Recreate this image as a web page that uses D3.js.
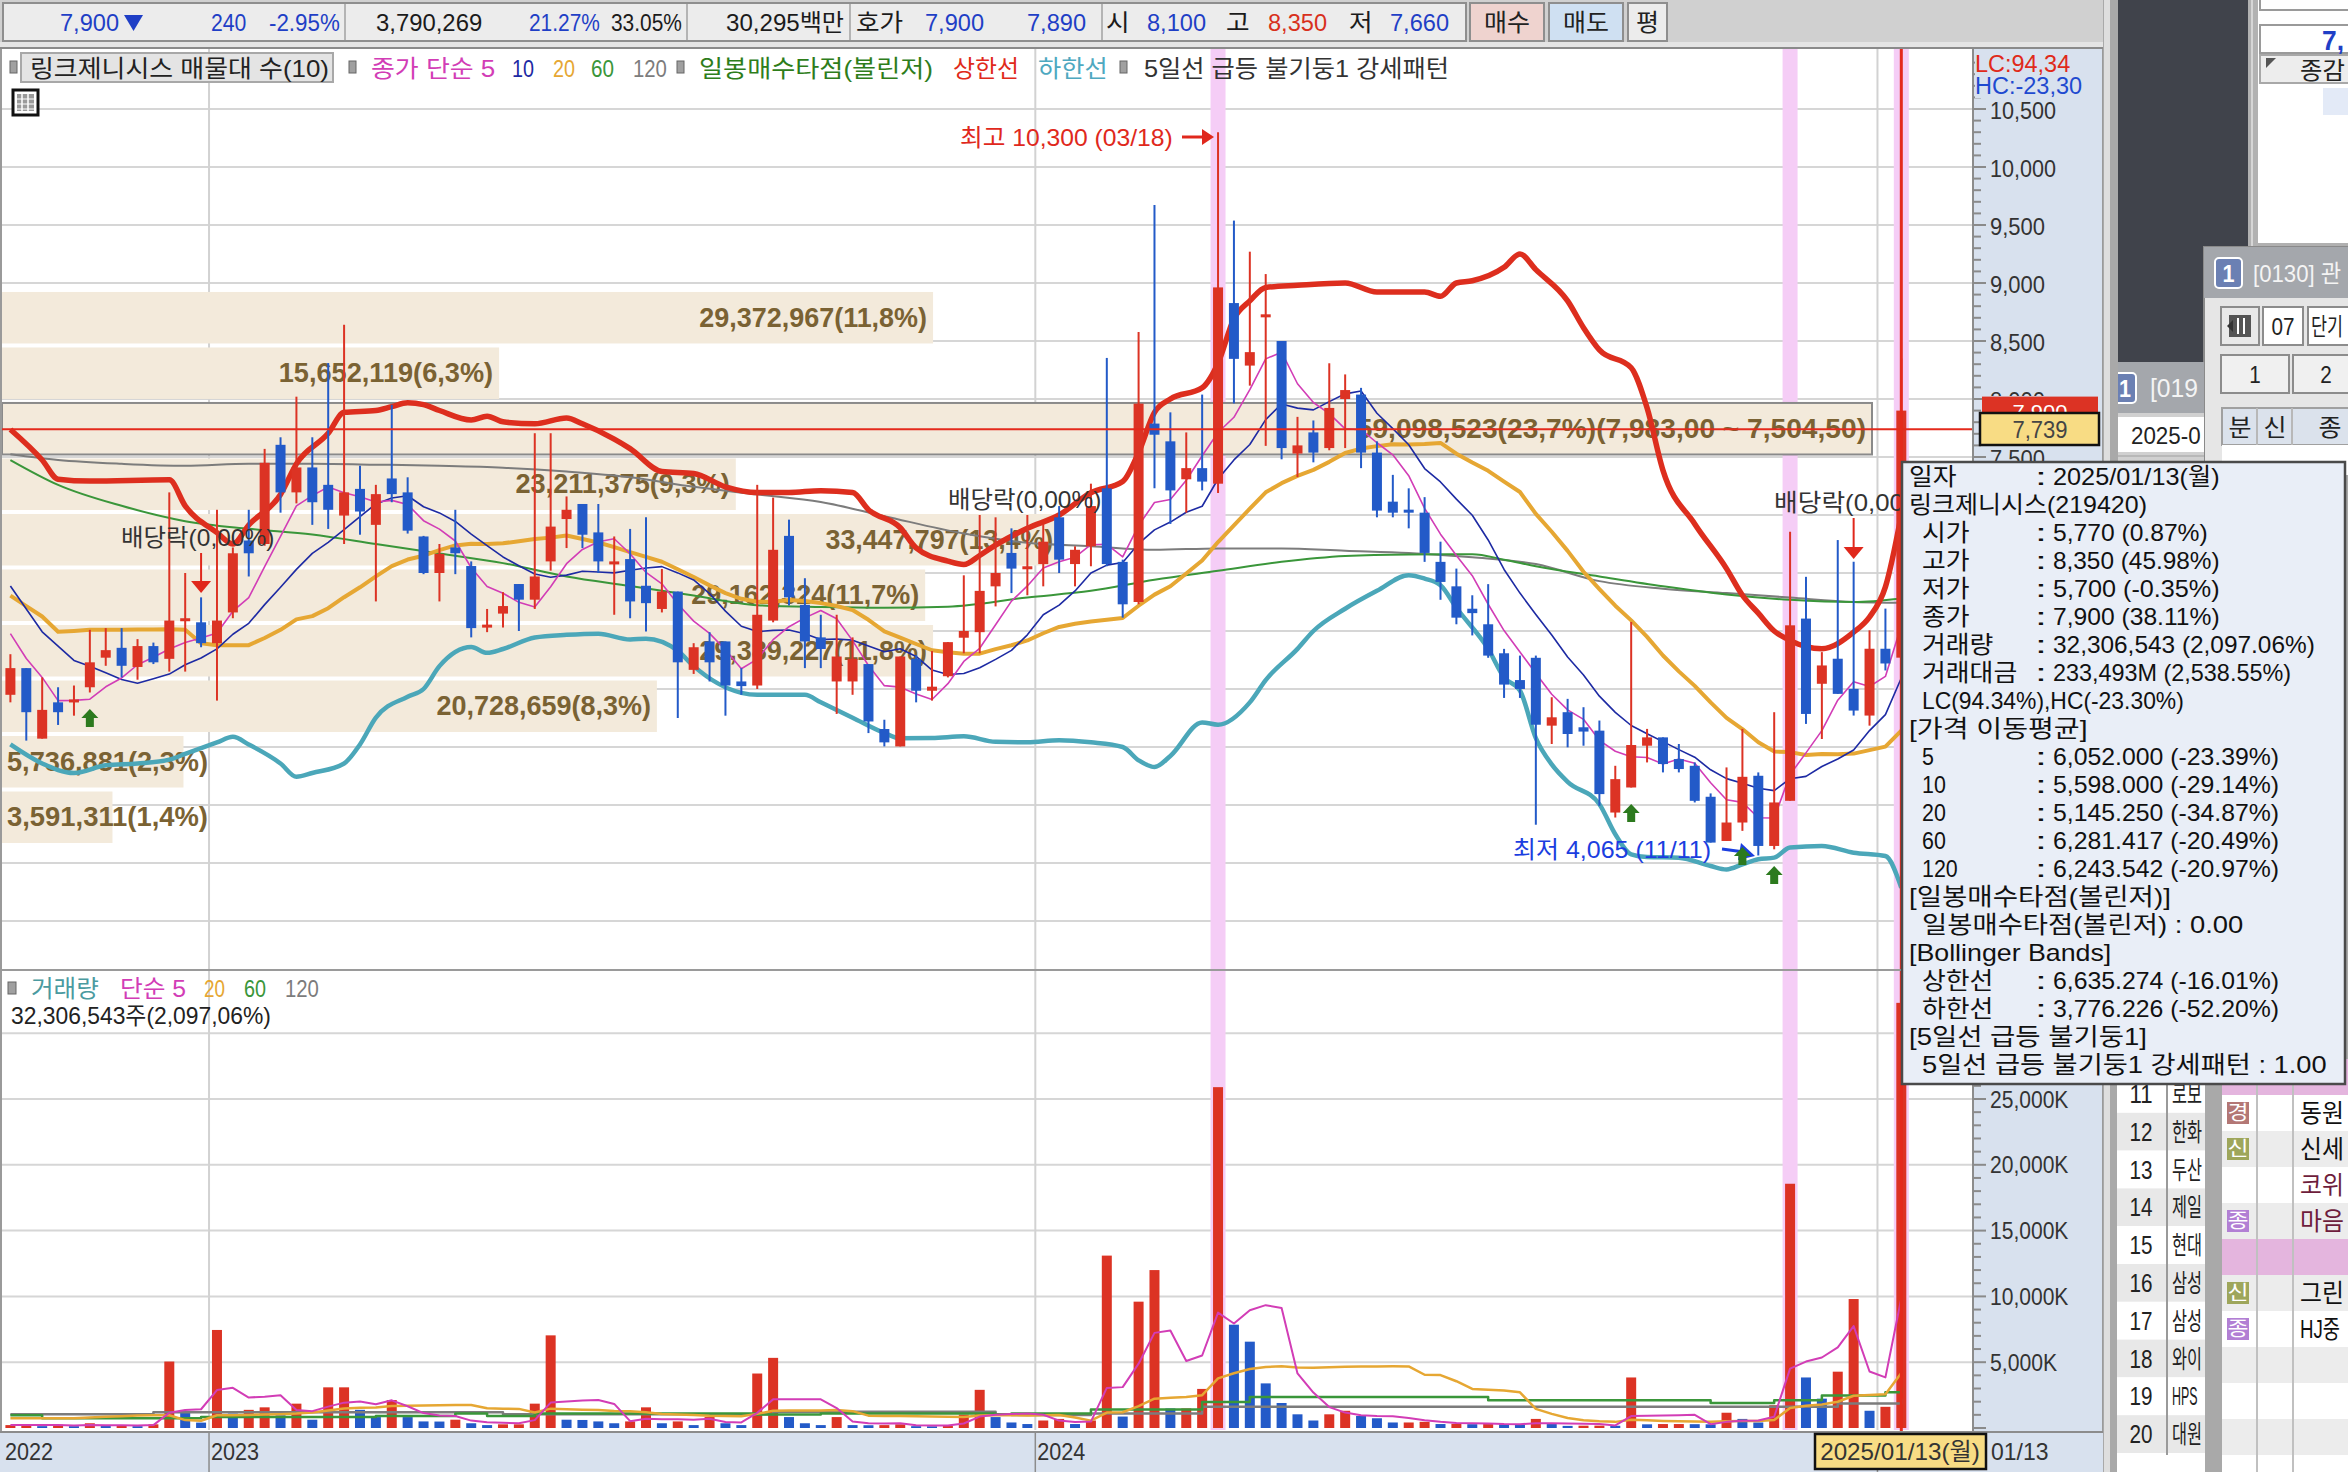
<!DOCTYPE html>
<html><head><meta charset="utf-8">
<script src="https://cdn.jsdelivr.net/npm/d3@7/dist/d3.min.js"></script>
<style>html,body{margin:0;padding:0;background:#fff;overflow:hidden}svg{display:block}</style>
</head><body>
<svg id="chart" width="2348" height="1472" xmlns="http://www.w3.org/2000/svg"></svg>
<script>
// ================= DATA (weekly candles, 2022-10-03 .. 2025-01-13) =================
const firstWeek = "2022-10-03";
const open = [5450,5680,5072,5385,5390,5515,5770,5855,5690,5870,
5760,6100,6075,5895,6160,6780,6750,7605,7195,7410,
7260,6995,7225,6915,7315,7195,6815,6500,6720,6560,
6040,6150,6405,6270,6600,6965,7095,6850,6580,6620,
6390,6190,6340,5665,5910,5910,5565,5530,6090,6820,
6225,5945,5565,5565,5715,5155,5005,5760,5485,5610,
5942,5990,6385,6673,6540,6577,6980,6577,6730,7230,
6596,6250,7788,7635,7308,7404,7270,8827,8288,8704,
8500,7530,7712,7577,8000,8038,7538,7115,7046,7020,
6596,6385,6192,6058,5808,5577,5769,5184,5300,5170,
5141,4435,4651,5011,5083,4896,4838,4571,4190,4349,
4752,4147,4536,6107,5545,5761,5501,5271,5847,5770];
const high = [5800,5680,5600,5515,5530,6010,6025,6025,5930,5900,
7195,6500,6290,7045,6720,7045,7570,7670,8020,7670,
8310,8640,7425,7260,7950,7325,6820,6750,7045,6600,
6190,6335,6405,7705,7705,7160,7095,7095,6815,6880,
6980,6535,6340,5895,5990,5910,5680,7260,7150,6960,
6455,6140,6140,5945,5715,5235,5780,5790,5827,5904,
6480,7000,6980,6885,7000,6923,7077,6730,7270,8354,
6615,8577,9673,7885,7712,8038,10300,9538,9270,9077,
8500,7846,7815,8308,8212,8096,7635,7346,7230,7154,
6770,6538,6308,6404,5846,5788,5788,5429,5415,5343,
5228,4838,6078,5156,5083,5026,4867,4600,4824,5156,
4781,5300,6856,6467,5818,6784,6597,6006,6193,8350];
const low = [5385,5055,5072,5190,5270,5470,5700,5600,5580,5715,
5650,5650,5860,5400,6110,6470,6735,7020,7100,6915,
6880,6750,6830,6255,7110,6840,6490,6255,6490,5945,
5990,6030,6000,6190,6520,6715,6715,6500,6140,6110,
5995,6160,5250,5630,5565,5270,5450,5500,6075,6220,
5680,5680,5285,5450,5120,5005,5005,5385,5400,5600,
5808,5808,6212,6327,6308,6385,6500,6385,6558,6558,
6115,6230,7230,6923,7020,7212,7190,7962,8115,7596,
7480,7327,7454,7558,7577,7404,6980,6980,6885,6596,
6269,6058,5962,5769,5423,5423,4330,5026,4997,5011,
4493,4392,4651,4867,4781,4781,4522,4176,4190,4277,
4065,4118,4536,5199,5069,5458,5271,5184,5660,5700];
const close = [5680,5300,5320,5300,5410,5730,5835,5700,5870,5730,
6090,6110,5895,6090,6670,6670,7450,7195,7410,7110,
7045,7195,7030,7180,7180,6865,6500,6665,6670,6025,
6055,6215,6270,6470,6900,7045,6830,6600,6600,6255,
6240,6340,5730,5860,5730,5530,5525,6140,6700,6290,
5910,5845,5780,5760,5220,5040,5780,5485,5520,5904,
6000,6346,6500,6538,6558,6770,6615,6700,7077,6577,
6230,7960,7692,7212,7404,7288,8962,8346,8404,8730,
7577,7600,7538,7923,8077,7538,7038,7020,7020,6673,
6423,6115,6154,5788,5538,5500,5192,5256,5112,5133,
4594,4723,5017,5083,4853,4810,4536,4176,4349,4743,
4147,4522,6049,5285,5703,5458,5314,5847,5720,7900];
const volumeK = [220,230,140,250,140,360,150,170,140,280,
5050,1240,410,7450,1100,1380,1570,970,1850,630,
3090,3090,1380,830,2125,830,500,490,630,360,
220,280,280,1850,7040,630,610,500,360,500,
1570,360,500,220,830,360,220,4140,5330,830,
360,220,830,220,210,220,280,140,130,150,
1020,2900,830,420,300,570,690,300,570,13100,
870,9600,12000,1485,1485,2970,25900,7850,6560,3390,
1900,1040,570,1040,1310,915,740,420,420,470,
300,310,290,300,280,270,690,300,160,175,
180,170,3840,280,300,300,290,280,1160,690,
420,1730,18560,3840,2230,4280,9800,1310,1610,32306];

const ma5Head  = [5977,5763,5600,5400];
const ma10Head = [6388,6190,5993,5870,5746,5697,5640,5582,5549];
const ma20Head = [6305,6215,6125,5993,6000,6010,6010,6010,6012,6014,6015,6010,5895,5878,5878,5878,5940,6010,6100];
const ma60Pts  = [[0,7474],[3,7260],[7,7079],[11,6947],[15,6881],[19,6832],[23,6750],[27,6668],[31,6585],[35,6470],[39,6388],[43,6306],[47,6223],[51,6207],[55,6200],[59,6210],[64,6289],[68,6346],[72,6442],[76,6519],[80,6596],[84,6646],[88,6660],[92,6662],[94,6615],[96,6558],[100,6470],[104,6385],[108,6315],[112,6269],[116,6250],[119,6281]];
const ma120Pts = [[0,7523],[3,7474],[7,7441],[11,7424],[15,7441],[19,7441],[23,7434],[27,7424],[31,7408],[35,7375],[39,7326],[43,7243],[47,7177],[51,7112],[55,6990],[60,6840],[64,6760],[68,6731],[72,6700],[76,6712],[80,6712],[84,6692],[88,6673],[92,6635],[96,6577],[100,6430],[104,6365],[108,6327],[112,6288],[116,6250],[119,6243]];
const bbUpperPts = [[0,7737],[2,7474],[3,7309],[5,7293],[10,7303],[11,7079],[13,6848],[14,6750],[15,6914],[17,7177],[18,7441],[20,7704],[21,7885],[23,7901],[24,7934],[25,7967],[26,7951],[27,7901],[29,7819],[30,7852],[31,7803],[33,7786],[35,7836],[36,7786],[38,7654],[39,7572],[41,7375],[43,7358],[45,7243],[47,7194],[49,7194],[51,7210],[53,7194],[54,7046],[56,6890],[57,6717],[59,6602],[60,6573],[61,6651],[62,6740],[64,6885],[66,7000],[68,7192],[70,7288],[71,7538],[72,7885],[73,8000],[75,8096],[76,8308],[77,8692],[78,8846],[79,8962],[81,8981],[84,9000],[86,8923],[89,8923],[90,8885],[91,9000],[92,9019],[94,9135],[95,9250],[96,9115],[98,8846],[99,8615],[100,8423],[102,8269],[103,7923],[104,7385],[106,6923],[108,6538],[109,6308],[110,6154],[111,6000],[112,5919],[113,5865],[114,5847],[116,5990],[117,6121],[118,6380],[119,7000]];
const bbLowerPts = [[0,5022],[2,4858],[4,4776],[6,4842],[8,4858],[10,4891],[11,4940],[13,5039],[14,5088],[15,5022],[17,4858],[18,4743],[19,4776],[21,4858],[22,5022],[23,5253],[25,5434],[26,5500],[27,5697],[29,5862],[30,5812],[31,5845],[33,5944],[35,5967],[37,5977],[39,5927],[40,5934],[42,5829],[43,5697],[46,5467],[47,5450],[50,5450],[51,5385],[53,5253],[55,5121],[56,5075],[58,5077],[60,5092],[62,5045],[64,5040],[66,5058],[68,5040],[70,5000],[71,4885],[72,4827],[73,4923],[75,5212],[76,5192],[78,5385],[79,5577],[81,5846],[82,6000],[84,6192],[86,6346],[88,6481],[89,6452],[90,6395],[91,6200],[93,5846],[94,5600],[95,5487],[96,5077],[97,4850],[98,4700],[100,4507],[101,4248],[102,4075],[103,4052],[105,4046],[107,3974],[108,3945],[109,3988],[110,4032],[111,4046],[112,4133],[114,4147],[116,4089],[118,4060],[119,3787]];
const volMa5Head  = [220,220,220,220];
const volMa20Head = [745,745,745,745,745,800,850,900,950,966,966,600,550,966,966,990,1020,1050,1100];
const volMa60Pts  = [[0,966],[2,745],[12,830],[23,910],[28,1100],[30,910],[33,1100],[47,1020],[51,1100],[57,1100],[62,1020],[63,1110],[68,1410],[75,1980],[78,2350],[93,2100],[107,1900],[111,2100],[114,2475],[118,2720],[119,3090]];
const volMa120Pts = [[0,1050],[9,1190],[28,1190],[31,1050],[47,1050],[48,1240],[58,1240],[62,1050],[63,990],[68,1110],[75,1610],[110,1610],[115,1860],[119,2230]];

// volume profile (매물대)
const profileVol = [29372967,15652119,59098523,23211375,33447797,29162324,29389227,20728659,5736881,3591311];
const profilePct = [11.8,6.3,23.7,9.3,13.4,11.7,11.8,8.3,2.3,1.4];
const profileTop = 8940, profileStep = 478.5, profileSelected = 2;

// ticks / labels / markers
const priceTicks = [10500,10000,9500,9000,8500,8000,7500,7000,6500,6000,5500,5000,4500,4000,3500];
const volTicks = [5000,10000,15000,20000,25000,30000];
const yearLabels = ["2022","2023","2024"];
const yearBoundaries = [12.5,64.5,117.5];
const signalIdx = [76,112,119];
const buyIdx = [5,102,109,111];
const exDivIdx = [12,116];
const exDivLabels = ["배당락(0,00%)","배당락(0,00%)","배당락(0,00"];
const hiIdx = 76, loIdx = 110, cursorIdx = 119, cursorPrice = 7739, lastPrice = 7900;

const topBar = [["7,900","b"],["240","b"],["-2.95%","b"],["3,790,269","k"],["21.27%","b"],["33.05%","k"],["30,295백만","k"],["호가","k"],["7,900","b"],["7,890","b"],["시","k"],["8,100","b"],["고","k"],["8,350","r"],["저","k"],["7,660","b"]];
const tipRows = [
 ["일자","2025/01/13(월)",0],["링크제니시스(219420)",null,0],
 ["시가","5,770 (0.87%)",1],["고가","8,350 (45.98%)",1],["저가","5,700 (-0.35%)",1],["종가","7,900 (38.11%)",1],
 ["거래량","32,306,543 (2,097.06%)",1],["거래대금","233,493M (2,538.55%)",1],["LC(94.34%),HC(-23.30%)",null,1],
 ["[가격 이동평균]",null,0],["5","6,052.000 (-23.39%)",1],["10","5,598.000 (-29.14%)",1],["20","5,145.250 (-34.87%)",1],
 ["60","6,281.417 (-20.49%)",1],["120","6,243.542 (-20.97%)",1],["[일봉매수타점(볼린저)]",null,0],
 ["일봉매수타점(볼린저) : 0.00",null,1],["[Bollinger Bands]",null,0],["상한선","6,635.274 (-16.01%)",1],
 ["하한선","3,776.226 (-52.20%)",1],["[5일선 급등 불기둥1]",null,0],["5일선 급등 불기둥1 강세패턴 : 1.00",null,1]];
const listNums = ["11","12","13","14","15","16","17","18","19","20"];
const listNames = ["로보","한화","두산","제일","현대","삼성","삼성","와이","HPS","대원"];
const rightBadges = [["",""],["경","동원"],["신","신세"],["","코위"],["종","마음"],["",""],["신","그린"],["종","HJ중"],["",""],["",""],["",""]];

// ================= DRAWING =================
const svg = d3.select("#chart");
const FF = "'Liberation Sans Narrow','Liberation Sans','Noto Sans CJK KR','DejaVu Sans',sans-serif";
const UP="#dc3324", DN="#235ac8";
const C = {mag:"#d23db6", navy:"#1d2aa3", org:"#e6a733", grn:"#3a963a", gry:"#7c7c7c", bbU:"#dd2e1e", bbL:"#4ba7b9", brown:"#7a6233"};
function cells(s){let n=0;for(const ch of s){n+=/[\u1100-\u11ff\u3130-\u318f\uac00-\ud7af\u3000-\u9fff\uff00-\uffef]/.test(ch)?2:1;}return n;}
function T(g,x,y,s,o={}){
  const t=g.append("text").attr("x",x).attr("y",y).text(s)
   .attr("font-family",o.ff||FF).attr("font-size",o.fs||24).attr("fill",o.c||"#222")
   .attr("dominant-baseline","central");
  if(o.a) t.attr("text-anchor",o.a);
  if(o.w) t.attr("font-weight",o.w);
  const cw=o.cw===undefined?11.6:o.cw;
  if(cw>0) t.attr("textLength",cells(s)*cw).attr("lengthAdjust","spacingAndGlyphs");
  return t;
}
const R=(g,x,y,w,h,f,s,sw)=>{const r=g.append("rect").attr("x",x).attr("y",y).attr("width",w).attr("height",h).attr("fill",f||"none");if(s)r.attr("stroke",s).attr("stroke-width",sw||1);return r;};
const L=(g,x1,y1,x2,y2,c,w)=>g.append("line").attr("x1",x1).attr("y1",y1).attr("x2",x2).attr("y2",y2).attr("stroke",c).attr("stroke-width",w||1);

const PL=2, PR=1973, PT=49, PB=970, VB=1430;
const TIP={x:1902,y:462,w:443,h:622};
const N = close.length;
const x = d3.scaleLinear().domain([0,N-1]).range([10.4, 10.4+15.89*(N-1)]);
const y = d3.scaleLinear().domain([3500,10500]).range([921,109]);
const yv = d3.scaleLinear().domain([0,25000]).range([1428,1099]);
const underTip = yy => yy>TIP.y-10 && yy<TIP.y+TIP.h+10;

// derived moving averages (simple, on closes / volumes)
const sma=(arr,n,head)=>arr.map((v,i)=> i<n-1 ? head[i] : d3.mean(arr.slice(i-n+1,i+1)));
const ma5 = sma(close,5,ma5Head), ma10 = sma(close,10,ma10Head), ma20 = sma(close,20,ma20Head);
const vma5 = sma(volumeK,5,volMa5Head), vma20 = sma(volumeK,20,volMa20Head);

svg.append("rect").attr("width",2348).attr("height",1472).attr("fill","#fff");
const defs = svg.append("defs");
defs.append("clipPath").attr("id","cp").append("rect").attr("x",PL).attr("y",PT).attr("width",PR-PL).attr("height",PB-PT);
defs.append("clipPath").attr("id","cv").append("rect").attr("x",PL).attr("y",PB).attr("width",PR-PL).attr("height",VB-PB);

// ---- top bar ----
const tb = svg.append("g");
R(tb,0,0,2110,49,"#d0d0d0");
R(tb,0,42,2110,6,"#e4e4e4");
L(tb,0,48,2103,48,"#8a8a8a",2);
R(tb,3,3,1463,38,"#ececec","#8e8e8e",2);
[345,687,850,1102].forEach(sx=>L(tb,sx,4,sx,40,"#b4b4b4",2));
const tbX=[60,211,269,376,529,611,726,856,925,1027,1106,1147,1226,1268,1349,1390];
const tcol={b:"#1f3fc6",k:"#1b1b1b",r:"#d8301c"};
topBar.forEach((d,i)=>T(tb,tbX[i],22,d[0],{c:tcol[d[1]],cw:11.8,fs:24}));
tb.append("polygon").attr("points","124,15 143,15 133.5,31").attr("fill","#1f3fc6");
R(tb,1470,3,74,38,"#efd3cf","#8e8e8e",2); T(tb,1507,22,"매수",{a:"middle",cw:11.5});
R(tb,1549,3,74,38,"#cfe0f2","#8e8e8e",2); T(tb,1586,22,"매도",{a:"middle",cw:11.5});
R(tb,1628,3,39,38,"#ececec","#8e8e8e",2); T(tb,1647.5,22,"평",{a:"middle",cw:11.5});

// ---- grid ----
const gg = svg.append("g");
priceTicks.forEach(p=>L(gg,PL,y(p),PR,y(p),"#d6d6d6",2));
volTicks.forEach(v=>L(gg,PL,yv(v),PR,yv(v),"#d6d6d6",2));
yearBoundaries.forEach(b=>L(gg,x(b),PT,x(b),VB,"#d2d2d2",2));

// ---- signal bands (pink) ----
svg.append("g").selectAll("rect").data(signalIdx).join("rect")
  .attr("x",d=>x(d)-7.5).attr("y",PT).attr("width",15).attr("height",VB-PT).attr("fill","#f5cdf6");

// ---- volume profile ----
const pg = svg.append("g").attr("clip-path","url(#cp)");
const bx = d3.scaleLinear().domain([0,23.7]).range([PL,1872]);
const fmt = d3.format(",");
profilePct.forEach((pct,k)=>{
  const top = profileTop-k*profileStep, bot = top-profileStep;
  const y0=y(top)+2, y1=y(bot)-2;
  const r=R(pg,PL,y0,bx(pct)-PL,y1-y0,"#f3eadb");
  if(k===profileSelected) r.attr("stroke","#8a8a8a").attr("stroke-width",2);
  let lab = fmt(profileVol[k])+"("+String(pct).replace(".",",")+"%)";
  if(k===profileSelected){const f2=v=>d3.format(",.2f")(v).replace(/\.(\d\d)$/,",$1"); lab += "("+f2(top)+" ~ "+f2(bot)+")";}
  const w = lab.length*13.4;
  T(pg, Math.max(7+w, bx(pct)-6), (y0+y1)/2, lab, {a:"end", fs:27, c:C.brown, w:"bold", cw:0})
    .attr("textLength",w).attr("lengthAdjust","spacingAndGlyphs");
});

// ---- price lines ----
const lg = svg.append("g").attr("clip-path","url(#cp)");
const lineArr = d3.line().x((d,i)=>x(i)).y(d=>y(d));
const linePts = d3.line().x(d=>x(d[0])).y(d=>y(d[1])).curve(d3.curveMonotoneX);
const path=(g,d,c,w)=>g.append("path").attr("d",d).attr("fill","none").attr("stroke",c).attr("stroke-width",w).attr("stroke-linejoin","round");
path(lg,linePts(bbLowerPts),C.bbL,4.5);
path(lg,linePts(ma120Pts),C.gry,2);
path(lg,linePts(ma60Pts),C.grn,2);
path(lg,lineArr(ma20),C.org,4);
path(lg,lineArr(ma10),C.navy,1.6);
path(lg,lineArr(ma5),C.mag,1.6);
path(lg,linePts(bbUpperPts),C.bbU,5.5);

// ---- candles ----
const cg = svg.append("g").attr("clip-path","url(#cp)");
const idx = d3.range(N);
const ccol = i=> close[i]>=open[i]?UP:DN;
cg.selectAll("line").data(idx).join("line")
  .attr("x1",i=>x(i)).attr("x2",i=>x(i)).attr("y1",i=>y(high[i])).attr("y2",i=>y(low[i]))
  .attr("stroke",ccol).attr("stroke-width",2);
cg.selectAll("rect").data(idx).join("rect")
  .attr("x",i=>x(i)-5).attr("width",10)
  .attr("y",i=>y(Math.max(open[i],close[i])))
  .attr("height",i=>Math.max(3,y(Math.min(open[i],close[i]))-y(Math.max(open[i],close[i]))))
  .attr("fill",ccol);

// ---- volume ----
const vg = svg.append("g").attr("clip-path","url(#cv)");
const vcol = i=> i===0 ? ccol(0) : (volumeK[i]>=volumeK[i-1]?UP:DN);
vg.selectAll("rect").data(idx).join("rect")
  .attr("x",i=>x(i)-5).attr("width",10).attr("y",i=>yv(volumeK[i])).attr("height",i=>yv(0)-yv(volumeK[i]))
  .attr("fill",vcol);
const vArr = d3.line().x((d,i)=>x(i)).y(d=>yv(d));
const vPts = d3.line().x(d=>x(d[0])).y(d=>yv(d[1])).curve(d3.curveStepAfter);
path(vg,vPts(volMa120Pts),C.gry,2.5);
path(vg,vPts(volMa60Pts),C.grn,2.5);
path(vg,vArr(vma20),C.org,2.5);
path(vg,vArr(vma5),C.mag,2);

// ---- annotations ----
const ag = svg.append("g");
T(ag,960,137,"최고 "+fmt(high[hiIdx])+" (03/18)",{c:"#e0281c",cw:11.2});
L(ag,1182,137,1204,137,"#e0281c",3);
ag.append("polygon").attr("points","1202,129 1214,137 1202,145").attr("fill","#e0281c");
T(ag,1513,849,"최저 "+fmt(low[loIdx])+" (11/11)",{c:"#1b3ee0",cw:11});
L(ag,1722,849,1744,852,"#1b3ee0",3);
ag.append("polygon").attr("points","1741,843 1755,856 1738,860").attr("fill","#1b3ee0");
const exDivLabelXY = [[121,537],[948,499],[1774,502]];
exDivLabels.forEach((s,k)=>T(ag,exDivLabelXY[k][0],exDivLabelXY[k][1],s,{c:"#333",cw:11.8}));
const exDivY=[[553,581],[518,547]];
exDivIdx.forEach((d,k)=>{const cx=x(d);L(ag,cx,exDivY[k][0],cx,exDivY[k][1],"#e0281c",2);
  ag.append("polygon").attr("points",`${cx-10},${exDivY[k][1]} ${cx+10},${exDivY[k][1]} ${cx},${exDivY[k][1]+12}`).attr("fill","#e0281c");});
const buyTop=[709,804,847,866];
buyIdx.forEach((d,k)=>{const cx=x(d),t=buyTop[k];
  ag.append("polygon").attr("points",`${cx},${t} ${cx+8.5},${t+9} ${cx+4},${t+9} ${cx+4},${t+18} ${cx-4},${t+18} ${cx-4},${t+9} ${cx-8.5},${t+9}`).attr("fill","#2c7a1e");});

// ---- crosshair ----
L(svg,PL,y(cursorPrice),PR,y(cursorPrice),"#e42a1c",2);
L(svg,x(cursorIdx),PT,x(cursorIdx),1432,"#e42a1c",3);

// ---- panel frame ----
L(svg,0,PB,PR,PB,"#9a9a9a",2);
L(svg,1,PT,1,1432,"#9a9a9a",2);

// ---- legends ----
const lgd = svg.append("g");
const mark=(mx,my)=>R(lgd,mx,my-6,7,12,"#a0a0a0","#666",1);
mark(10,67);
R(lgd,21,53,312,29,"#e4e4e4","#a8a8a8",2);
T(lgd,30,68,"링크제니시스 매물대 수(10)",{cw:11.5});
mark(349,67);
T(lgd,371,68,"종가 단순 5",{c:C.mag,cw:11.3});
T(lgd,512,68,"10",{c:C.navy,cw:11});
T(lgd,553,68,"20",{c:C.org,cw:11});
T(lgd,591,68,"60",{c:C.grn,cw:11.5});
T(lgd,633,68,"120",{c:C.gry,cw:11.3});
mark(677,67);
T(lgd,699,68,"일봉매수타점(볼린저)",{c:"#2e7d1b",cw:11.7});
T(lgd,953,68,"상한선",{c:"#e02a1a",cw:11});
T(lgd,1038,68,"하한선",{c:"#4ea8c0",cw:11.6});
mark(1120,67);
T(lgd,1144,68,"5일선 급등 불기둥1 강세패턴",{c:"#333",cw:11.3});
R(lgd,13,90,25,25,"#fff","#111",3); R(lgd,17,94,17,17,"#9a9a9a");
[22,28].forEach(v=>L(lgd,v,94,v,111,"#fff",1.5)); [99,104,109].forEach(v=>L(lgd,17,v,34,v,"#fff",1));
R(lgd,8,982,8,12,"#a0a0a0","#666",1);
T(lgd,31,988,"거래량",{c:"#4a9aa0",cw:11.3});
T(lgd,120,988,"단순 5",{c:C.mag,cw:11});
T(lgd,204,988,"20",{c:C.org,cw:10.5});
T(lgd,244,988,"60",{c:C.grn,cw:11});
T(lgd,285,988,"120",{c:C.gry,cw:11.3});
T(lgd,11,1015,"32,306,543주(2,097,06%)",{c:"#222",cw:11.3});

// ---- right axis panel ----
const ax = svg.append("g");
R(ax,PR,PT,2103-PR,1472-PT,"#d8e1ee");
L(ax,PR,PT,PR,1432,"#8c8c8c",2);
L(ax,2103,PT,2103,1472,"#9a9a9a",2);
d3.range(3500,11000,100).forEach(p=>{const yy=y(p); if(yy>52&&yy<966) L(ax,PR,yy,p%500===0?1986:1981,yy,"#8a8a8a",2);});
d3.range(0,36000,1000).forEach(v=>{const yy=yv(v); if(yy>974&&yy<1429) L(ax,PR,yy,v%5000===0?1986:1981,yy,"#8a8a8a",2);});
// labels hidden under the price flags / tooltip are drawn clipped to their visible part
defs.append("clipPath").attr("id","cax").append("rect").attr("x",1975).attr("y",99).attr("width",126).attr("height",297);
const axl = ax.append("g").attr("clip-path","url(#cax)");
priceTicks.filter(p=>y(p)<400).forEach(p=>T(axl,1990,y(p)+1,fmt(p),{c:"#333",cw:11}));
defs.append("clipPath").attr("id","cax2").append("rect").attr("x",1975).attr("y",445).attr("width",126).attr("height",17);
T(ax.append("g").attr("clip-path","url(#cax2)"),1990,y(7500)+1,"7,500",{c:"#333",cw:11});
volTicks.filter(v=>!underTip(yv(v))).forEach(v=>T(ax,1990,yv(v),fmt(v)+"K",{c:"#333",cw:11.2}));
R(ax,1975,51,126,47,"#d8e1ee");
T(ax,1975,64,"LC:94,34",{c:"#e02a1a",cw:11.9,fs:23});
T(ax,1975,86,"HC:-23,30",{c:"#1f4ad0",cw:11.9,fs:23});
R(ax,1982,y(lastPrice)-14,116,28,"#dc3324");
defs.append("clipPath").attr("id","cflag").append("rect").attr("x",1982).attr("y",y(lastPrice)-14).attr("width",116).attr("height",14+413-y(lastPrice));
T(ax.append("g").attr("clip-path","url(#cflag)"),2040,y(lastPrice)+1,fmt(lastPrice),{a:"middle",c:"#fff",cw:11,fs:20});
R(ax,1980,413,119,32,"#f8dc84","#111",2.5);
T(ax,2040,429,fmt(cursorPrice),{a:"middle",c:"#444",cw:11});

// ---- x axis strip ----
const xs = svg.append("g");
R(xs,0,1432,2103,40,"#d8e1ee");
L(xs,0,1432,2103,1432,"#8c8c8c",2);
yearBoundaries.forEach(b=>L(xs,x(b),1432,x(b),1472,"#8c8c8c",1.5));
const yearX=[5,x(12.5)+2,x(64.5)+2];
yearLabels.forEach((s,k)=>T(xs,yearX[k],1451,s,{c:"#333",cw:12}));
R(xs,1815,1434,171,35,"#f8dc84","#111",2.5);
T(xs,1900,1451,"2025/01/13(월)",{a:"middle",c:"#333",cw:11.4});
T(xs,1991,1451,"01/13",{c:"#333",cw:11.5});

// ---- right side windows ----
const rs = svg.append("g");
defs.append("clipPath").attr("id","crs").append("rect").attr("x",2103).attr("y",0).attr("width",245).attr("height",1472);
rs.attr("clip-path","url(#crs)");
R(rs,2103,0,245,1472,"#a9a9a9");
R(rs,2104,0,6,1472,"#dedede");
R(rs,2118,0,130,362,"#40434b");
R(rs,2248,0,10,247,"#b2b2b2"); L(rs,2252,0,2252,247,"#d6d6d6",2);
R(rs,2258,0,90,247,"#fff");
R(rs,2260,-2,92,12,"#fff","#9a9a9a",2);
R(rs,2260,25,92,28,"#fff","#9a9a9a",2);
T(rs,2322,40,"7,",{c:"#1f3fc6",fs:28,w:"bold",cw:11});
R(rs,2260,55,92,28,"#ededed","#a8a8a8",2);
rs.append("polygon").attr("points","2266,58 2276,58 2266,68").attr("fill","#555");
T(rs,2300,70,"종감",{cw:11.2});
R(rs,2323,88,30,27,"#e3eaf7");
R(rs,2258,243,90,4,"#b0b0b0");
// [0130] window
R(rs,2204,247,150,226,"#e6e6e6","#8a8a8a",2);
R(rs,2204,247,150,51,"#a4a7ac");
R(rs,2215,258,27,30,"#6b80b3","#fff",2).attr("rx",4);
T(rs,2228.5,273,"1",{a:"middle",c:"#fff",w:"bold",cw:12});
T(rs,2253,273,"[0130] 관",{c:"#f4f4f4",fs:24,cw:9.8});
R(rs,2221,307,38,38,"#e9e9e9","#8c8c8c",2); R(rs,2229,315,22,22,"#555"); L(rs,2238,318,2238,334,"#fff",2); L(rs,2244,318,2244,334,"#fff",2);
rs.append("polygon").attr("points","2227,326 2233,320 2233,332").attr("fill","#333");
R(rs,2263,307,40,38,"#fff","#8c8c8c",2); T(rs,2283,326,"07",{a:"middle",cw:11.5});
R(rs,2308,307,60,38,"#fff","#8c8c8c",2); T(rs,2311,326,"단기",{cw:8});
R(rs,2221,355,68,38,"#f0f0f0","#8c8c8c",2); T(rs,2255,374,"1",{a:"middle",cw:11.5});
R(rs,2293,355,70,38,"#f0f0f0","#8c8c8c",2); T(rs,2326,374,"2",{a:"middle",cw:11.5});
R(rs,2222,408,140,37,"#dbe2ec","#a0a0a0",2);
L(rs,2257,408,2257,473,"#b8b8b8",2); L(rs,2292,408,2292,473,"#b8b8b8",2);
T(rs,2240,427,"분",{a:"middle",cw:11.5}); T(rs,2275,427,"신",{a:"middle",cw:11.5}); T(rs,2330,427,"종",{a:"middle",cw:11.5});
R(rs,2222,445,140,30,"#fff");
// [0198] window
const w198 = rs.append("g");
defs.append("clipPath").attr("id","c198").append("rect").attr("x",2118).attr("y",362).attr("width",86).attr("height",110);
w198.attr("clip-path","url(#c198)");
R(w198,2118,362,86,110,"#d0d0d0");
R(w198,2118,362,86,51,"#a4a7ac");
R(w198,2106,373,30,30,"#6b80b3","#fff",2).attr("rx",4);
T(w198,2125,388,"1",{a:"middle",c:"#fff",w:"bold",cw:12});
T(w198,2150,388,"[019",{c:"#f4f4f4",fs:25,cw:12});
R(w198,2118,417,86,35,"#fff");
T(w198,2131,435,"2025-0",{cw:11.6});
L(w198,2118,456,2204,456,"#b8b8b8",2);
// lower list window
const lw = rs.append("g");
defs.append("clipPath").attr("id","clw").append("rect").attr("x",2117).attr("y",1070).attr("width",88).attr("height",402);
lw.attr("clip-path","url(#clw)");
R(lw,2117,1070,88,402,"#fff");
listNums.forEach((n,k)=>{const top=1075+k*37.8;
  R(lw,2117,top,88,37.8,k%2===1?"#e8e8e8":"#fff");
  T(lw,2141,top+19,n,{a:"middle",cw:11.5,fs:25});
  T(lw,2172,top+19,listNames[k],{cw:listNames[k]==="HPS"?8.5:7.5,fs:25});});
L(lw,2167,1070,2167,1455,"#9a9a9a",2);
R(lw,2117,1455,88,20,"#fff");
// lower right window
const rw = rs.append("g");
R(rw,2222,1059,130,413,"#fff");
rightBadges.forEach((d,r)=>{const top=1059+r*36;
  let bg = (r===0||r===5)?"#e4b5de":(r%2===0?"#ececec":"#fff");
  R(rw,2222,top,130,36,bg);
  if(d[0]){const bc={"경":"#b37775","신":"#9ea65b","종":"#b27fd4"}[d[0]];
    R(rw,2227,top+7,22,22,bc); T(rw,2238,top+18,d[0],{a:"middle",c:"#fff",cw:10.5,fs:20});}
  if(d[1]) T(rw,2300,top+18,d[1],{c:(d[1]==="코위"||d[1]==="마음")?"#6e1d3c":"#111",cw:d[1]==="HJ중"?10:11,fs:25});
});
L(rw,2257,1059,2257,1472,"#c0c0c0",2); L(rw,2293,1059,2293,1472,"#c0c0c0",2);

// ---- tooltip ----
const tt = svg.append("g");
R(tt,TIP.x,TIP.y,TIP.w,TIP.h,"#e9eef7","#4a4a4a",2.5);
tipRows.forEach((r,k)=>{const yy=476.5+28*k, xx=r[2]?1922:1909;
  T(tt,xx,yy,r[0],{c:"#111",cw:11.9});
  if(r[1]!==null){T(tt,2035,yy,":",{c:"#111",cw:11.9}); T(tt,2053,yy,r[1],{c:"#111",cw:11.9});}
});
</script>
</body></html>
